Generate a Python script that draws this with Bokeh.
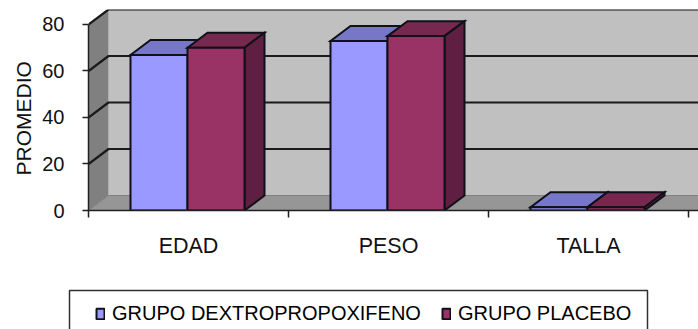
from bokeh.embed import file_html
from bokeh.layouts import column
from bokeh.resources import INLINE
from bokeh.plotting import figure
from bokeh.models import FixedTicker, Legend, LegendItem, LinearAxis, Range1d, Title

categories = ["EDAD", "PESO", "TALLA"]
grupo_dextro = [66.9, 72.9, 1.4]
grupo_placebo = [70.0, 75.0, 1.4]
series_names = ["GRUPO DEXTROPROPOXIFENO", "GRUPO PLACEBO"]
y_ticks = [0, 20, 40, 60, 80]
y_title = "PROMEDIO"

FONT = "Liberation Sans"
INK = "#111111"
BLUE = ("#9999FF", "#7777C8", "#5C5CA0")
RED = ("#993366", "#77284F", "#5F1F42")
BAR_W = 0.285
BAR_START = 0.21
DEPTH_X = 0.1
DEPTH_Y = 6.45
X_MAX = 3.05
Y_MAX = 86.45

p = figure(width=698, height=270, frame_width=610, frame_height=201,
           min_border_left=88, min_border_right=0, min_border_top=9, min_border_bottom=60,
           x_range=Range1d(0, X_MAX), y_range=Range1d(0, Y_MAX), frame_align=False,
           output_backend="svg", toolbar_location=None, x_axis_type=None, y_axis_type=None)
p.outline_line_color = None
p.xgrid.visible = False
p.ygrid.visible = False

# walls and floor of the 3-D box
p.patch([DEPTH_X, X_MAX + DEPTH_X, X_MAX + DEPTH_X, DEPTH_X],
        [DEPTH_Y, DEPTH_Y, 80 + DEPTH_Y, 80 + DEPTH_Y], fill_color="#C0C0C0", line_color=None)
p.patch([0, DEPTH_X, DEPTH_X, 0], [0, DEPTH_Y, 80 + DEPTH_Y, 80], fill_color="#808080", line_color=None)
p.patch([0, DEPTH_X, X_MAX + DEPTH_X, X_MAX], [0, DEPTH_Y, DEPTH_Y, 0], fill_color="#969696", line_color=None)

# gridlines wrap from the left wall onto the back wall
for v in y_ticks[1:]:
    p.line([0, DEPTH_X, X_MAX + DEPTH_X], [v, v + DEPTH_Y, v + DEPTH_Y], line_color="#1a1a1a", line_width=2.2)
p.line([0, DEPTH_X, X_MAX + DEPTH_X], [0, DEPTH_Y, DEPTH_Y], line_color="#808080", line_width=1)


def bar(left, height, colors):
    front, top, side = colors
    right = left + BAR_W
    edge = dict(line_color="#101018", line_width=2, line_join="miter")
    p.patch([left, left + DEPTH_X, right + DEPTH_X, right],
            [height, height + DEPTH_Y, height + DEPTH_Y, height], fill_color=top, **edge)
    p.patch([right, right + DEPTH_X, right + DEPTH_X, right],
            [0, DEPTH_Y, height + DEPTH_Y, height], fill_color=side, **edge)
    p.quad(left=left, right=right, bottom=0, top=height, fill_color=front, **edge)


for i, v in enumerate(grupo_dextro):
    bar(i + BAR_START, v, BLUE)
for i, v in enumerate(grupo_placebo):
    bar(i + BAR_START + BAR_W, v, RED)

y_axis = LinearAxis(ticker=FixedTicker(ticks=y_ticks), bounds=(0, 80))
y_axis.axis_line_color = "#202020"
y_axis.axis_line_width = 1.5
y_axis.major_tick_line_color = "#202020"
y_axis.major_tick_line_width = 1.5
y_axis.major_tick_in = 0
y_axis.major_tick_out = 6
y_axis.minor_tick_line_color = None
y_axis.major_label_standoff = 18
y_axis.major_label_text_font = FONT
y_axis.major_label_text_font_size = "20px"
y_axis.major_label_text_color = INK
p.add_layout(y_axis, "left")

# the axis title sits a little below the frame's middle, so it is a side title with an offset
p.add_layout(Title(text=y_title, align="left", offset=35, standoff=9, text_font=FONT, text_font_size="21px",
                   text_font_style="normal", text_color=INK), "left")

x_axis = LinearAxis(ticker=FixedTicker(ticks=[0.5, 1.5, 2.5], minor_ticks=[0, 1, 2, 3]),
                    major_label_overrides={i + 0.5: c for i, c in enumerate(categories)})
x_axis.axis_line_color = "#202020"
x_axis.axis_line_width = 1.5
x_axis.major_tick_line_color = None
x_axis.major_tick_out = 0
x_axis.major_tick_in = 0
x_axis.minor_tick_line_color = "#202020"
x_axis.minor_tick_line_width = 1.5
x_axis.minor_tick_in = 0
x_axis.minor_tick_out = 7
x_axis.major_label_standoff = 16
x_axis.major_label_text_font = FONT
x_axis.major_label_text_font_size = "21.5px"
x_axis.major_label_text_color = INK
p.add_layout(x_axis, "below")

# legend strip below the chart; its box runs off the bottom of the page
strip = figure(width=698, height=59, min_border=0, x_range=Range1d(0, 698), y_range=Range1d(0, 59),
               frame_align=False, output_backend="svg", toolbar_location=None, x_axis_type=None, y_axis_type=None)
strip.outline_line_color = None
strip.xgrid.visible = False
strip.ygrid.visible = False
strip.quad(left=69, right=647, bottom=-10, top=39, fill_color="white", line_color="#303030", line_width=1.5)
swatch = dict(left=[-30], right=[-20], top=[-20], bottom=[-30], line_color="#101018", line_width=2)
blue_key = strip.quad(fill_color=BLUE[0], **swatch)
red_key = strip.quad(fill_color=RED[0], **swatch)
legend = Legend(items=[LegendItem(label=series_names[0], renderers=[blue_key]),
                       LegendItem(label=series_names[1], renderers=[red_key])],
                orientation="horizontal", location=(95, 4),
                glyph_width=10, glyph_height=13, label_standoff=7, spacing=20, padding=0, margin=0,
                border_line_color=None, background_fill_alpha=0,
                label_text_font=FONT, label_text_font_size="20px", label_text_color="#000000")
strip.add_layout(legend, "center")

open("out.html", "w").write(file_html(column(p, strip, spacing=0), INLINE))
